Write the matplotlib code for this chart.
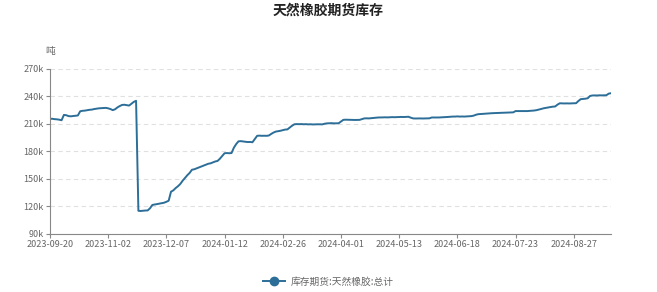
import matplotlib
matplotlib.use("Agg")
import matplotlib.pyplot as plt
from matplotlib.lines import Line2D
from matplotlib.ticker import FuncFormatter

plt.rcParams['font.family'] = ['Noto Sans CJK SC', 'DejaVu Sans']

# 库存 (千吨), one value per trading day
stock = [
    215.5, 215.6, 215.2, 215.0, 214.6, 214.0, 219.8, 219.5, 218.5, 218.3,
    218.6, 219.0, 219.2, 223.8, 224.3, 224.5, 225.0, 225.4, 225.6, 226.2,
    226.6, 227.0, 227.2, 227.4, 227.5, 227.0, 226.2, 225.0, 226.0, 228.0,
    229.5, 230.7, 230.9, 230.5, 230.0, 232.0, 234.0, 235.2,
    115.2, 115.0,
    115.3, 115.5, 115.6, 118.0, 121.6, 122.0, 122.5, 123.0, 123.4, 124.0,
    125.0, 126.2, 136.0, 137.5, 140.0, 142.0, 144.5, 148.0, 151.0, 154.0,
    156.5, 160.0, 160.5, 161.5, 162.5, 163.5, 164.5, 165.5, 166.5, 167.0,
    168.0, 169.0, 169.6, 172.0, 175.0, 178.0, 178.2, 178.0, 178.2, 184.0,
    188.0, 191.0, 191.2, 190.8, 190.5, 190.2, 190.3, 190.0, 193.5, 197.0,
    197.2, 197.0, 197.1, 197.0, 197.3, 199.0, 200.5, 201.6, 202.0, 202.5,
    203.2, 203.8, 204.0, 206.0, 208.0, 209.6, 209.8, 209.7, 209.8, 209.6,
    209.7, 209.5, 209.6, 209.4, 209.5, 209.6, 209.5, 209.5, 210.2, 210.6,
    210.7, 210.8, 210.6, 210.7, 210.7, 212.5, 214.4, 214.6, 214.5, 214.3,
    214.4, 214.3, 214.4, 214.4, 215.2, 216.0, 216.1, 216.0, 216.2, 216.5,
    216.8, 217.0, 217.0, 217.1, 217.2, 217.1, 217.3, 217.4, 217.3, 217.4,
    217.5, 217.6, 217.5, 217.6, 217.8, 216.8, 216.0, 215.9, 216.0, 216.0,
    215.9, 216.0, 216.0, 216.1, 217.0, 217.0, 217.1, 217.0, 217.2, 217.3,
    217.4, 217.6, 217.8, 218.0, 218.0, 218.2, 218.0, 218.1, 218.0, 218.2,
    218.3, 218.5, 219.0, 220.0, 220.6, 220.8, 221.0, 221.2, 221.5, 221.6,
    221.7, 221.8, 222.0, 222.1, 222.2, 222.3, 222.4, 222.5, 222.5, 222.6,
    224.0, 224.0, 224.1, 224.0, 224.1, 224.0, 224.2, 224.3, 224.6, 225.0,
    225.6, 226.3, 227.0, 227.5, 228.0, 228.4, 228.8, 229.0, 231.0, 232.5,
    232.4, 232.3, 232.4, 232.3, 232.4, 232.5, 232.6, 235.0, 237.0, 237.2,
    237.5, 238.0, 240.5, 241.0, 241.1, 241.0, 241.2, 241.1, 241.2, 241.3,
    243.0, 243.5,
]

tick_labels = ["2023-09-20", "2023-11-02", "2023-12-07", "2024-01-12", "2024-02-26",
               "2024-04-01", "2024-05-13", "2024-06-18", "2024-07-23", "2024-08-27"]
tick_step = 25
y_ticks = [90, 120, 150, 180, 210, 240, 270]
series_name = "库存期货:天然橡胶:总计"

line_color = "#2c6e98"
gray = "#666666"

fig = plt.figure(figsize=(6.57, 2.92), dpi=100)
ax = fig.add_axes([0.076, 0.199, 0.854, 0.565])

x = list(range(len(stock)))
ax.plot(x, stock, color=line_color, lw=1.4)

ax.set_xlim(0, len(stock) - 1)
ax.set_ylim(90, 270)
ax.set_yticks(y_ticks)
ax.yaxis.set_major_formatter(FuncFormatter(lambda v, p: f"{int(v)}k"))
ax.set_xticks([i * tick_step for i in range(len(tick_labels))])
ax.set_xticklabels(tick_labels)

ax.grid(axis="y", ls=(0, (4, 3)), color="#e0e0e0", lw=0.8)
for s in ["top", "right"]:
    ax.spines[s].set_visible(False)
for s in ["left", "bottom"]:
    ax.spines[s].set_color("#888888")
    ax.spines[s].set_linewidth(0.8)
ax.tick_params(axis="both", labelsize=6.5, colors="#888888", labelcolor=gray,
               length=3, width=0.8, pad=1.5)

fig.text(0.5, 0.965, "天然橡胶期货库存", ha="center", va="center",
         fontsize=10, fontweight="bold", color="#222222")
fig.text(0.069, 0.825, "吨", ha="left", va="center", fontsize=7, color=gray)

handle = Line2D([], [], color=line_color, lw=1.4, marker="o", markersize=6)
leg = fig.legend([handle], [series_name], loc="center", bbox_to_anchor=(0.5, 0.035),
                 frameon=False, fontsize=7, handlelength=2.2, handletextpad=0.6)
for t in leg.get_texts():
    t.set_color(gray)

fig.savefig("out.png", dpi=100, facecolor="white")
